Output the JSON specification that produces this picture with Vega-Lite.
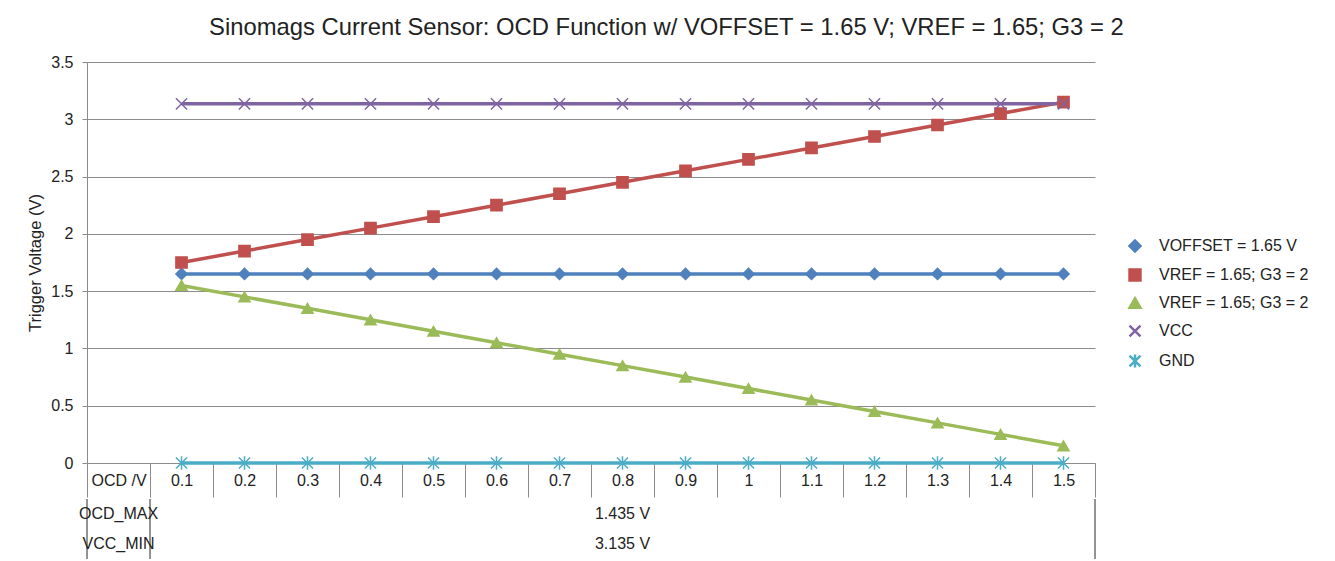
{
  "$schema": "https://vega.github.io/schema/vega-lite/v6.json",
  "padding": {"left": 27, "top": 16, "right": 0, "bottom": 0},
  "background": "white",
  "title": {"text": "Sinomags Current Sensor: OCD Function w/ VOFFSET = 1.65 V; VREF = 1.65; G3 = 2", "fontSize": 23.8, "font": "Liberation Sans", "fontWeight": "normal", "color": "#222222", "anchor": "middle", "dx": -2, "offset": 14},
  "config": {"view": {"stroke": null}, "font": "Liberation Sans"},
  "spacing": 0,
  "vconcat": [
    {
      "width": 1008,
      "height": 401,
      "data": {"values": [
        {"series": "voffset", "ocd": "0.1", "v": 1.65}, {"series": "voffset", "ocd": "0.2", "v": 1.65}, {"series": "voffset", "ocd": "0.3", "v": 1.65}, {"series": "voffset", "ocd": "0.4", "v": 1.65}, {"series": "voffset", "ocd": "0.5", "v": 1.65},
        {"series": "voffset", "ocd": "0.6", "v": 1.65}, {"series": "voffset", "ocd": "0.7", "v": 1.65}, {"series": "voffset", "ocd": "0.8", "v": 1.65}, {"series": "voffset", "ocd": "0.9", "v": 1.65}, {"series": "voffset", "ocd": "1", "v": 1.65},
        {"series": "voffset", "ocd": "1.1", "v": 1.65}, {"series": "voffset", "ocd": "1.2", "v": 1.65}, {"series": "voffset", "ocd": "1.3", "v": 1.65}, {"series": "voffset", "ocd": "1.4", "v": 1.65}, {"series": "voffset", "ocd": "1.5", "v": 1.65},
        {"series": "vref_hi", "ocd": "0.1", "v": 1.75}, {"series": "vref_hi", "ocd": "0.2", "v": 1.85}, {"series": "vref_hi", "ocd": "0.3", "v": 1.95}, {"series": "vref_hi", "ocd": "0.4", "v": 2.05}, {"series": "vref_hi", "ocd": "0.5", "v": 2.15},
        {"series": "vref_hi", "ocd": "0.6", "v": 2.25}, {"series": "vref_hi", "ocd": "0.7", "v": 2.35}, {"series": "vref_hi", "ocd": "0.8", "v": 2.45}, {"series": "vref_hi", "ocd": "0.9", "v": 2.55}, {"series": "vref_hi", "ocd": "1", "v": 2.65},
        {"series": "vref_hi", "ocd": "1.1", "v": 2.75}, {"series": "vref_hi", "ocd": "1.2", "v": 2.85}, {"series": "vref_hi", "ocd": "1.3", "v": 2.95}, {"series": "vref_hi", "ocd": "1.4", "v": 3.05}, {"series": "vref_hi", "ocd": "1.5", "v": 3.15},
        {"series": "vref_lo", "ocd": "0.1", "v": 1.55}, {"series": "vref_lo", "ocd": "0.2", "v": 1.45}, {"series": "vref_lo", "ocd": "0.3", "v": 1.35}, {"series": "vref_lo", "ocd": "0.4", "v": 1.25}, {"series": "vref_lo", "ocd": "0.5", "v": 1.15},
        {"series": "vref_lo", "ocd": "0.6", "v": 1.05}, {"series": "vref_lo", "ocd": "0.7", "v": 0.95}, {"series": "vref_lo", "ocd": "0.8", "v": 0.85}, {"series": "vref_lo", "ocd": "0.9", "v": 0.75}, {"series": "vref_lo", "ocd": "1", "v": 0.65},
        {"series": "vref_lo", "ocd": "1.1", "v": 0.55}, {"series": "vref_lo", "ocd": "1.2", "v": 0.45}, {"series": "vref_lo", "ocd": "1.3", "v": 0.35}, {"series": "vref_lo", "ocd": "1.4", "v": 0.25}, {"series": "vref_lo", "ocd": "1.5", "v": 0.15},
        {"series": "vcc", "ocd": "0.1", "v": 3.135}, {"series": "vcc", "ocd": "0.2", "v": 3.135}, {"series": "vcc", "ocd": "0.3", "v": 3.135}, {"series": "vcc", "ocd": "0.4", "v": 3.135}, {"series": "vcc", "ocd": "0.5", "v": 3.135},
        {"series": "vcc", "ocd": "0.6", "v": 3.135}, {"series": "vcc", "ocd": "0.7", "v": 3.135}, {"series": "vcc", "ocd": "0.8", "v": 3.135}, {"series": "vcc", "ocd": "0.9", "v": 3.135}, {"series": "vcc", "ocd": "1", "v": 3.135},
        {"series": "vcc", "ocd": "1.1", "v": 3.135}, {"series": "vcc", "ocd": "1.2", "v": 3.135}, {"series": "vcc", "ocd": "1.3", "v": 3.135}, {"series": "vcc", "ocd": "1.4", "v": 3.135}, {"series": "vcc", "ocd": "1.5", "v": 3.135},
        {"series": "gnd", "ocd": "0.1", "v": 0}, {"series": "gnd", "ocd": "0.2", "v": 0}, {"series": "gnd", "ocd": "0.3", "v": 0}, {"series": "gnd", "ocd": "0.4", "v": 0}, {"series": "gnd", "ocd": "0.5", "v": 0},
        {"series": "gnd", "ocd": "0.6", "v": 0}, {"series": "gnd", "ocd": "0.7", "v": 0}, {"series": "gnd", "ocd": "0.8", "v": 0}, {"series": "gnd", "ocd": "0.9", "v": 0}, {"series": "gnd", "ocd": "1", "v": 0},
        {"series": "gnd", "ocd": "1.1", "v": 0}, {"series": "gnd", "ocd": "1.2", "v": 0}, {"series": "gnd", "ocd": "1.3", "v": 0}, {"series": "gnd", "ocd": "1.4", "v": 0}, {"series": "gnd", "ocd": "1.5", "v": 0}
      ]},
      "layer": [
        {
          "mark": {"type": "line", "strokeWidth": 3.5},
          "encoding": {
            "x": {"field": "ocd", "type": "ordinal", "bandPosition": 0.5,
              "scale": {"type": "band", "domain": ["OCD /V", "0.1", "0.2", "0.3", "0.4", "0.5", "0.6", "0.7", "0.8", "0.9", "1", "1.1", "1.2", "1.3", "1.4", "1.5"], "paddingInner": 0, "paddingOuter": 0},
              "axis": {"title": null, "tickBand": "extent", "tickSize": 34, "tickColor": "#8c8c8c", "domainColor": "#8c8c8c", "labelPadding": -25, "labelFontSize": 16, "labelColor": "#222222", "labelAngle": 0, "grid": false}},
            "y": {"field": "v", "type": "quantitative", "scale": {"domain": [0, 3.5]},
              "axis": {"values": [0, 0.5, 1, 1.5, 2, 2.5, 3, 3.5], "format": "~g", "title": "Trigger Voltage (V)", "titleFontSize": 16.5, "titleFontWeight": "normal", "titleColor": "#222222", "titlePadding": 7, "labelFontSize": 16, "labelColor": "#222222", "labelPadding": 9, "tickSize": 5, "tickColor": "#8c8c8c", "domainColor": "#8c8c8c", "gridColor": "#8c8c8c"}},
            "color": {"field": "series", "type": "nominal",
              "scale": {"domain": ["voffset", "vref_hi", "vref_lo", "vcc", "gnd"], "range": ["#4F81BD", "#C0504D", "#9BBB59", "#8064A2", "#4BACC6"]},
              "legend": {"orient": "none", "legendX": 1040, "legendY": 176, "title": null, "labelFontSize": 16, "labelColor": "#222222", "symbolSize": 120, "rowPadding": 7, "labelOffset": 16, "symbolStrokeWidth": 2.5,
                "labelExpr": "datum.value === 'voffset' ? 'VOFFSET = 1.65 V' : datum.value === 'vcc' ? 'VCC' : datum.value === 'gnd' ? 'GND' : 'VREF = 1.65; G3 = 2'",
                "encode": {"symbols": {"update": {"shape": {"signal": "datum.value === 'voffset' ? 'M-3.5,0L3.5,0M0,-1L1,0L0,1L-1,0Z' : datum.value === 'vref_hi' ? 'M-3.5,0L3.5,0M-0.9,-0.9L0.9,-0.9L0.9,0.9L-0.9,0.9Z' : datum.value === 'vref_lo' ? 'M-3.5,0L3.5,0M0,-1L1,0.9L-1,0.9Z' : datum.value === 'vcc' ? 'M-3.5,0L3.5,0M-1,-1L1,1M-1,1L1,-1' : 'M-3.5,0L3.5,0M-1,-1L1,1M-1,1L1,-1M0,-1.2L0,1.2'"}}}}}}
          }
        },
        {
          "mark": {"type": "point", "filled": true, "size": 125, "strokeWidth": 1.5, "opacity": 1},
          "encoding": {
            "x": {"field": "ocd", "type": "ordinal", "bandPosition": 0.5},
            "y": {"field": "v", "type": "quantitative"},
            "color": {"field": "series", "type": "nominal"},
            "shape": {"field": "series", "type": "nominal",
              "scale": {"domain": ["voffset", "vref_hi", "vref_lo", "vcc", "gnd"], "range": ["diamond", "square", "triangle-up", "M-1,-1L1,1M-1,1L1,-1", "M-1,-1L1,1M-1,1L1,-1M0,-1.2L0,1.2"]},
              "legend": {"orient": "none", "legendX": 1040, "legendY": 176, "title": null, "labelFontSize": 16, "labelColor": "#222222", "symbolSize": 120, "rowPadding": 7, "labelOffset": 16, "symbolStrokeWidth": 2.5,
                "labelExpr": "datum.value === 'voffset' ? 'VOFFSET = 1.65 V' : datum.value === 'vcc' ? 'VCC' : datum.value === 'gnd' ? 'GND' : 'VREF = 1.65; G3 = 2'",
                "encode": {"symbols": {"update": {"shape": {"signal": "datum.value === 'voffset' ? 'M-3.5,0L3.5,0M0,-1L1,0L0,1L-1,0Z' : datum.value === 'vref_hi' ? 'M-3.5,0L3.5,0M-0.9,-0.9L0.9,-0.9L0.9,0.9L-0.9,0.9Z' : datum.value === 'vref_lo' ? 'M-3.5,0L3.5,0M0,-1L1,0.9L-1,0.9Z' : datum.value === 'vcc' ? 'M-3.5,0L3.5,0M-1,-1L1,1M-1,1L1,-1' : 'M-3.5,0L3.5,0M-1,-1L1,1M-1,1L1,-1M0,-1.2L0,1.2'"}}}}}},
            "stroke": {"field": "series", "type": "nominal",
              "scale": {"domain": ["voffset", "vref_hi", "vref_lo", "vcc", "gnd"], "range": ["#4F81BD", "#C0504D", "#9BBB59", "#8064A2", "#4BACC6"]}}
          }
        }
      ]
    },
    {
      "width": 1008,
      "height": 60,
      "data": {"values": [
        {"col": "OCD /V", "row": "OCD_MAX", "text": "OCD_MAX"},
        {"col": "0.8", "row": "OCD_MAX", "text": "1.435 V"},
        {"col": "OCD /V", "row": "VCC_MIN", "text": "VCC_MIN"},
        {"col": "0.8", "row": "VCC_MIN", "text": "3.135 V"}
      ]},
      "layer": [
        {
          "mark": {"type": "rule", "color": "#8c8c8c"},
          "encoding": {"x": {"datum": "OCD /V", "type": "ordinal", "bandPosition": 0,
            "scale": {"type": "band", "domain": ["OCD /V", "0.1", "0.2", "0.3", "0.4", "0.5", "0.6", "0.7", "0.8", "0.9", "1", "1.1", "1.2", "1.3", "1.4", "1.5"], "paddingInner": 0, "paddingOuter": 0}, "axis": null}}
        },
        {
          "mark": {"type": "rule", "color": "#8c8c8c"},
          "encoding": {"x": {"datum": "0.1", "type": "ordinal", "bandPosition": 0}}
        },
        {
          "mark": {"type": "rule", "color": "#8c8c8c"},
          "encoding": {"x": {"datum": "1.5", "type": "ordinal", "bandPosition": 1}}
        },
        {
          "mark": {"type": "text", "fontSize": 16, "color": "#222222"},
          "encoding": {
            "x": {"field": "col", "type": "ordinal", "bandPosition": 0.5},
            "y": {"field": "row", "type": "nominal", "scale": {"domain": ["OCD_MAX", "VCC_MIN"], "paddingOuter": 0.1}, "axis": null},
            "text": {"field": "text"}
          }
        }
      ]
    }
  ]
}
